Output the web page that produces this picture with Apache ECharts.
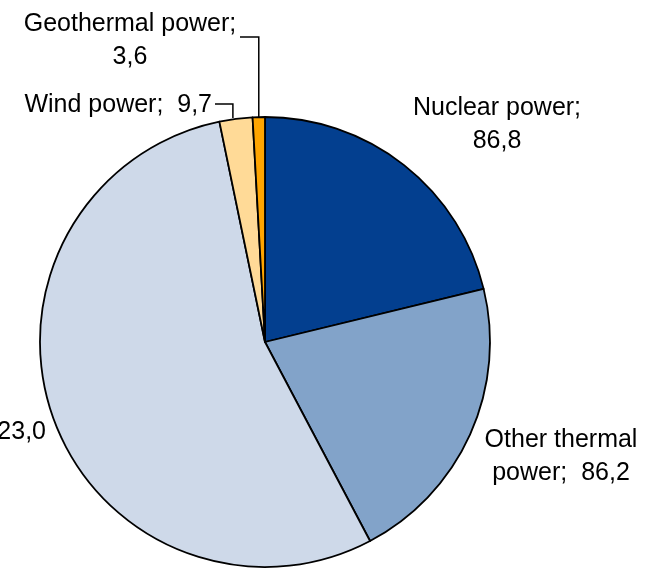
<!DOCTYPE html>
<html>
<head>
<meta charset="utf-8">
<script src="https://cdn.jsdelivr.net/npm/echarts@6/dist/echarts.min.js"></script>
<style>
  html, body { margin: 0; padding: 0; background: #fff; }
  #chart { width: 645px; height: 569px; }
</style>
</head>
<body>
<div id="chart"></div>
<script>
// electricity generation by source
const categories = ['Nuclear power', 'Other thermal power', 'Hydro power', 'Wind power', 'Geothermal power'];
const values = [86.8, 86.2, 223.0, 9.7, 3.6];

// where each label sits (x, y, align) - layout only
const labelPos = [
  [497, 92, 'center'],
  [561, 424, 'center'],
  [46, 416, 'right'],
  [212, 89, 'right'],
  [130, 8, 'center']
];

function fmt(v) {
  return v.toFixed(1).replace('.', ',');
}

const chart = echarts.init(document.getElementById('chart'));

chart.setOption({
  animation: false,
  color: ['#033F8F', '#82A3C9', '#CED9E9', '#FFDA97', '#FFA500'],
  series: [
    {
      type: 'pie',
      center: [265, 342],
      radius: 225,
      startAngle: 90,
      clockwise: true,
      avoidLabelOverlap: false,
      itemStyle: {
        borderColor: '#000',
        borderWidth: 1.8
      },
      label: {
        show: true,
        position: 'outside',
        color: '#000',
        fontFamily: 'Liberation Sans, Arial, sans-serif',
        fontSize: 25,
        lineHeight: 33,
        formatter: function (p) {
          const v = fmt(p.value);
          switch (p.dataIndex) {
            case 0: return 'Nuclear power;\n' + v;
            case 1: return 'Other thermal\npower;  ' + v;
            case 2: return 'Hydro power;  ' + v;
            case 3: return 'Wind power;  ' + v;
            default: return 'Geothermal power;\n' + v;
          }
        }
      },
      labelLine: {
        show: true,
        length: 10,
        length2: 10,
        lineStyle: { color: '#000', width: 1.5 }
      },
      labelLayout: function (params) {
        const pos = labelPos[params.dataIndex];
        const out = {
          x: pos[0],
          y: pos[1],
          align: pos[2],
          verticalAlign: 'top'
        };
        const pts = params.labelLinePoints;
        if (params.dataIndex === 3 && pts) {
          const s = pts[0];
          out.labelLinePoints = [[s[0] - 3, s[1] - 1], [s[0] - 3, 104], [pos[0] + 3, 104]];
        } else if (params.dataIndex === 4 && pts) {
          const s = pts[0];
          out.labelLinePoints = [[s[0], s[1]], [s[0], 37], [240, 37]];
        } else {
          out.labelLinePoints = [[0, 0], [0, 0], [0, 0]];
        }
        return out;
      },
      data: categories.map((name, i) => ({ name: name, value: values[i] }))
    }
  ]
});
</script>
</body>
</html>
